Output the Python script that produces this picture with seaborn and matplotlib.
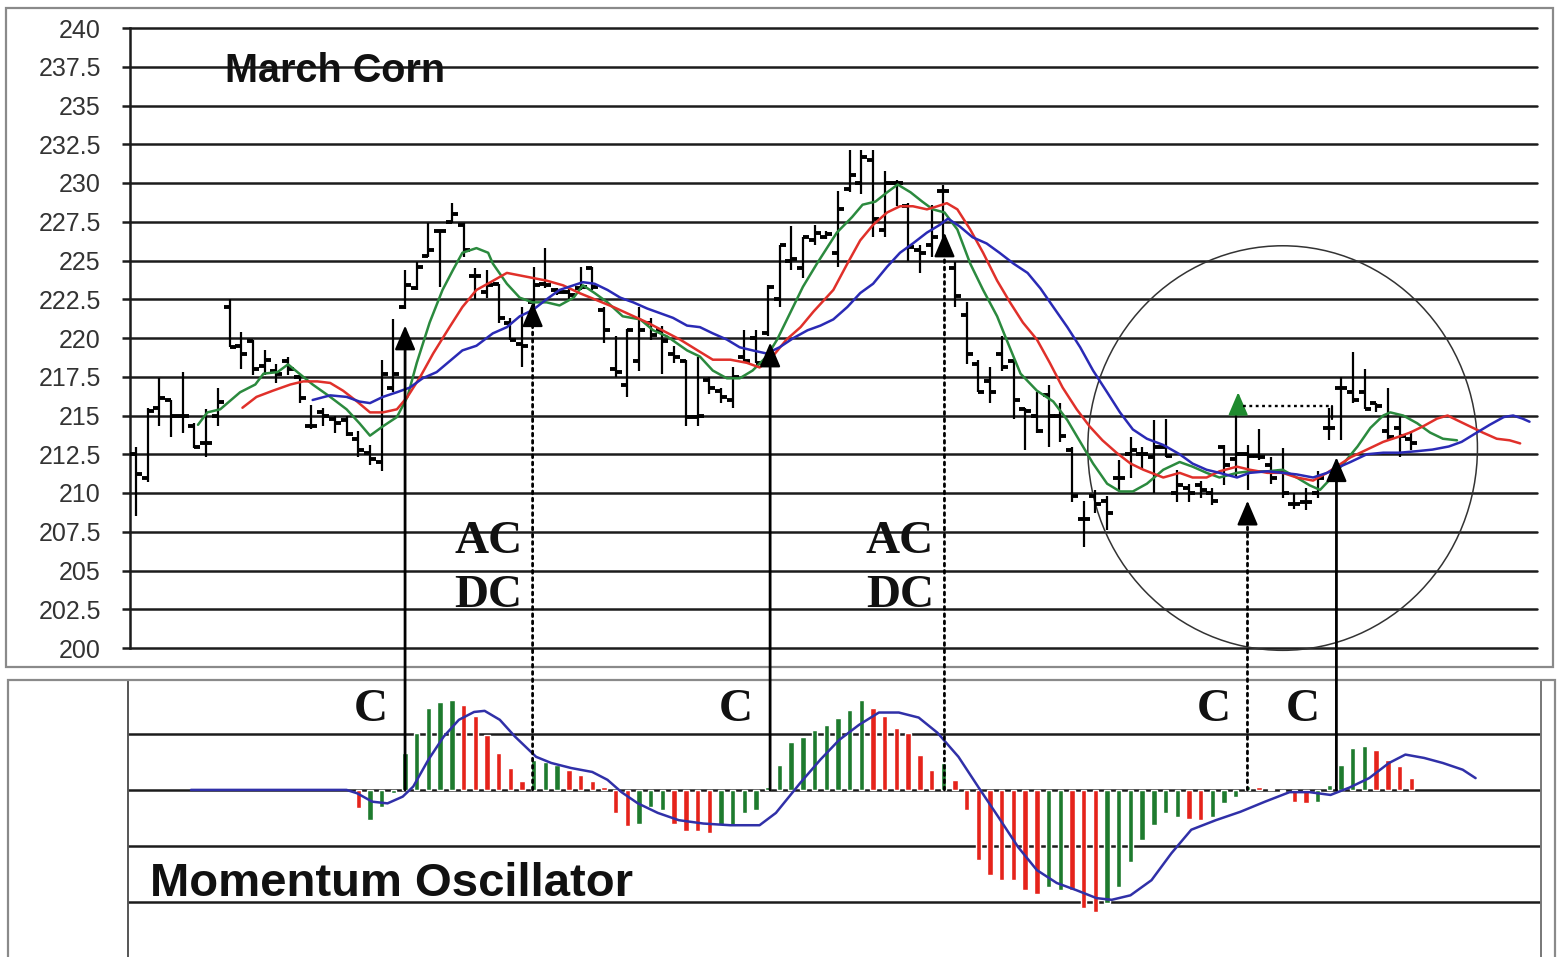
"""March Corn daily bars with displaced moving averages and a momentum oscillator."""

import matplotlib

matplotlib.use("Agg")
import matplotlib.pyplot as plt
import numpy as np
import pandas as pd
import seaborn as sns
from matplotlib.lines import TICKLEFT, TICKRIGHT
from matplotlib.patches import ConnectionPatch, Ellipse, Rectangle

# daily price bars, one per trading day (day 0 .. 109)
bar_open = [
    212.5, 211.0, 215.5, 216.0, 215.0, 214.3, 213.2, 215.0, 222.0, 219.5,
    219.8, 218.2, 217.9, 218.5, 217.5, 214.3, 215.2, 214.8, 214.7, 213.5,
    212.6, 212.0, 216.8, 222.0, 223.2, 225.3, 226.9, 227.5, 227.3, 224.0,
    223.0, 223.5, 221.0, 219.6, 222.3, 223.5, 223.1, 223.0, 223.2, 224.5,
    221.8, 218.0, 217.0, 218.5, 221.0, 220.5, 219.0, 218.5, 214.9, 217.3,
    216.6, 216.0, 218.8, 220.0, 220.3, 222.5, 225.0, 224.5, 226.3, 226.5,
    225.5, 229.6, 230.0, 231.5, 227.0, 230.0, 228.5, 225.7, 226.0, 229.5,
    224.5, 221.5, 218.3, 217.2, 219.0, 218.5, 215.4, 215.0, 216.3, 215.0,
    212.8, 208.3, 209.8, 209.5, 211.0, 212.5, 212.5, 212.3, 213.0, 210.0,
    210.3, 210.5, 210.0, 213.0, 212.2, 212.5, 212.4, 211.8, 211.4, 209.3,
    209.4, 210.0, 214.2, 216.8, 216.5, 216.5, 215.8, 214.0, 214.2, 213.5,
]
bar_high = [
    213.0, 215.5, 217.4, 216.0, 217.8, 214.5, 215.4, 216.8, 222.5, 220.4,
    219.9, 219.2, 218.3, 218.8, 217.6, 215.7, 215.5, 215.0, 215.0, 214.0,
    213.1, 218.6, 221.2, 224.4, 224.9, 227.4, 227.0, 228.7, 227.4, 224.5,
    224.4, 223.5, 221.3, 222.0, 224.6, 225.8, 223.2, 223.2, 224.6, 224.6,
    222.0, 220.1, 220.6, 222.0, 221.3, 220.8, 219.5, 218.6, 218.8, 217.5,
    216.8, 218.1, 220.5, 220.5, 223.4, 226.0, 227.2, 226.5, 227.3, 226.9,
    229.5, 232.1, 232.1, 232.1, 230.8, 230.2, 228.7, 226.0, 228.6, 229.9,
    224.9, 222.3, 218.6, 218.1, 220.1, 218.6, 215.5, 216.5, 217.0, 215.8,
    213.0, 209.5, 210.2, 209.8, 212.1, 213.6, 213.0, 214.7, 214.8, 211.5,
    210.6, 210.8, 210.3, 213.1, 215.2, 213.1, 214.1, 212.3, 212.9, 210.0,
    210.3, 211.4, 215.5, 217.5, 219.1, 218.0, 215.8, 216.8, 214.9, 214.0,
]
bar_low = [
    208.5, 210.7, 214.3, 213.6, 213.9, 212.9, 212.3, 214.3, 219.4, 218.0,
    217.6, 217.6, 217.1, 217.6, 215.8, 214.1, 214.3, 213.9, 213.7, 212.3,
    211.8, 211.4, 216.5, 221.9, 223.1, 225.2, 223.3, 227.4, 225.2, 222.5,
    222.6, 221.0, 219.9, 218.1, 222.0, 223.2, 222.8, 222.5, 223.1, 223.1,
    219.7, 217.5, 216.2, 217.9, 219.9, 217.7, 218.4, 214.3, 214.3, 216.4,
    215.8, 215.5, 218.4, 218.4, 220.1, 222.0, 224.4, 223.9, 226.0, 226.4,
    224.6, 229.4, 229.3, 226.5, 226.5, 228.5, 225.0, 224.2, 225.2, 225.5,
    222.0, 218.3, 216.5, 215.8, 217.9, 214.8, 212.8, 213.9, 213.0, 213.3,
    209.4, 206.5, 208.7, 207.6, 210.2, 211.0, 211.5, 210.0, 212.3, 209.4,
    209.4, 209.7, 209.2, 210.5, 211.0, 210.2, 212.1, 210.6, 209.7, 209.0,
    208.9, 209.7, 213.4, 213.4, 215.8, 215.4, 215.2, 213.4, 212.3, 212.8,
]
bar_close = [
    211.2, 215.3, 216.1, 215.0, 215.0, 213.0, 213.2, 215.9, 219.4, 219.0,
    218.0, 218.6, 217.7, 218.0, 216.1, 214.3, 215.0, 214.5, 213.8, 212.8,
    212.2, 217.7, 217.7, 223.4, 224.6, 225.7, 226.9, 228.0, 225.7, 224.0,
    223.4, 221.3, 219.9, 219.5, 223.4, 223.4, 223.0, 222.8, 223.3, 223.3,
    220.5, 217.8, 220.5, 220.5, 220.2, 219.8, 218.8, 214.9, 215.0, 216.8,
    216.2, 217.5, 218.5, 218.4, 223.3, 226.0, 225.1, 226.5, 226.8, 226.7,
    228.3, 230.5, 231.7, 227.7, 230.0, 230.0, 225.9, 225.5, 226.5, 229.5,
    222.7, 219.0, 216.5, 216.5, 218.1, 216.0, 215.3, 214.0, 215.0, 213.7,
    209.8, 208.3, 209.3, 208.7, 211.0, 212.8, 212.5, 213.0, 212.4, 210.5,
    210.0, 210.2, 209.5, 211.8, 212.5, 212.4, 212.3, 211.0, 210.0, 209.3,
    209.4, 211.0, 214.2, 216.8, 216.0, 215.4, 215.6, 213.6, 213.7, 213.2,
]

# displaced moving averages as (day, price)
fast_days = [
    5.3, 6.1, 7.2, 8.9, 10.2, 10.9, 12.1, 13.0, 13.8, 15.1, 16.6, 18.0, 19.1, 20.0,
    21.1, 22.3, 23.2, 24.0, 25.1, 26.2, 27.1, 27.9, 29.1, 30.1, 30.5, 31.7, 32.8,
    33.9, 35.1, 36.2, 37.4, 38.2, 39.2, 40.3, 41.6, 43.1, 44.2, 45.4, 47.1, 48.2,
    49.3, 50.5, 51.6, 52.7, 53.9, 54.8, 55.9, 57.0, 58.2, 59.9, 61.2, 62.1, 63.2,
    64.2, 65.1, 66.2, 67.2, 68.1, 69.1, 70.2, 71.3, 72.4, 73.6, 74.4, 75.6, 77.0,
    78.4, 79.6, 80.7, 81.8, 83.0, 84.1, 85.2, 86.4, 87.8, 89.2, 90.3, 91.5, 92.6,
    94.1, 95.2, 96.7, 98.0, 99.2, 100.3, 101.2, 102.2, 103.2, 104.4, 105.5, 106.6,
    107.2, 108.3, 109.5, 110.6, 111.7, 112.9,
]
fast_vals = [
    214.4, 215.2, 215.4, 216.5, 217.0, 217.7, 217.8, 218.3, 217.8, 217.0, 216.2,
    215.4, 214.5, 213.7, 214.3, 214.9, 216.2, 218.4, 221.0, 223.1, 224.4, 225.5,
    225.8, 225.5, 224.8, 223.5, 222.6, 222.3, 222.3, 222.1, 222.6, 223.4, 222.9,
    222.3, 221.4, 221.2, 220.5, 220.1, 219.2, 218.8, 217.9, 217.4, 217.4, 217.9,
    218.8, 219.9, 221.6, 223.3, 224.8, 226.8, 227.8, 228.6, 228.8, 229.4, 229.9,
    229.4, 228.8, 228.3, 228.1, 227.0, 224.8, 223.1, 221.4, 219.9, 217.7, 216.6,
    215.9, 214.7, 213.3, 211.9, 210.6, 210.1, 210.1, 210.6, 211.5, 212.0, 211.7,
    211.3, 211.0, 211.3, 211.4, 211.4, 211.5, 211.0, 210.5, 210.2, 211.0, 211.9,
    213.0, 214.2, 215.0, 215.2, 215.0, 214.5, 213.9, 213.5, 213.4,
]
mid_days = [
    9.1, 10.3, 11.7, 13.2, 14.3, 15.5, 16.6, 17.7, 18.9, 20.0, 21.1, 22.3, 23.2,
    24.3, 25.4, 26.8, 27.9, 29.1, 30.3, 31.7, 35.1, 36.5, 37.9, 40.8, 43.7, 46.5,
    48.0, 49.3, 50.8, 52.2, 53.3, 54.4, 55.6, 56.8, 57.9, 59.6, 60.8, 61.9, 63.0,
    64.2, 65.3, 66.4, 67.6, 68.5, 69.3, 70.2, 71.3, 72.4, 73.6, 74.7, 75.8, 77.0,
    78.1, 79.2, 80.4, 81.5, 82.6, 83.8, 85.0, 86.1, 87.8, 89.2, 90.3, 91.5, 92.6,
    94.1, 95.2, 96.7, 98.0, 99.2, 100.6, 101.8, 102.6, 103.8, 105.2, 106.6, 107.8,
    108.9, 110.0, 111.2, 112.1, 112.9, 114.0, 115.1, 116.3, 117.4, 118.3,
]
mid_vals = [
    215.5, 216.2, 216.6, 217.0, 217.2, 217.2, 217.1, 216.6, 215.9, 215.2, 215.2,
    215.4, 216.2, 217.5, 219.0, 220.7, 222.0, 223.1, 223.6, 224.2, 223.7, 223.4,
    222.9, 222.0, 221.0, 219.9, 219.2, 218.6, 218.6, 218.4, 218.1, 218.8, 219.9,
    220.7, 221.7, 223.1, 224.8, 226.3, 227.3, 228.1, 228.5, 228.5, 228.3, 228.5,
    228.7, 228.3, 227.0, 225.5, 223.7, 222.3, 221.0, 219.9, 218.4, 216.8, 215.4,
    214.3, 213.4, 212.6, 211.9, 211.5, 211.0, 211.3, 211.0, 211.0, 211.4, 211.7,
    211.5, 211.3, 211.3, 211.0, 210.8, 211.3, 211.7, 212.3, 212.8, 213.3, 213.6,
    213.9, 214.3, 214.8, 215.0, 214.7, 214.3, 213.9, 213.5, 213.4, 213.2,
]
slow_days = [
    15.1, 16.6, 18.0, 19.1, 20.0, 21.1, 22.3, 23.4, 24.5, 25.7, 26.8, 27.9, 29.1,
    30.5, 31.7, 32.8, 33.9, 35.1, 36.2, 37.4, 38.2, 39.2, 40.3, 41.4, 42.5, 43.7,
    44.8, 45.9, 47.1, 48.2, 49.3, 50.5, 51.6, 52.7, 53.9, 55.0, 56.2, 57.4, 58.5,
    59.6, 60.8, 61.9, 63.0, 64.2, 65.3, 66.4, 67.6, 68.7, 69.4, 70.4, 71.5, 72.7,
    73.8, 75.0, 76.2, 77.3, 78.4, 79.6, 80.7, 81.8, 83.0, 84.1, 85.2, 86.4, 87.8,
    89.2, 90.3, 91.5, 92.6, 94.1, 95.2, 96.7, 98.0, 99.2, 100.6, 101.8, 102.6,
    103.8, 105.2, 106.6, 108.0, 109.5, 110.8, 112.2, 113.3, 114.6, 115.7, 116.9,
    117.7, 118.5, 119.1,
]
slow_vals = [
    216.0, 216.3, 216.2, 215.9, 215.8, 216.2, 216.5, 216.8, 217.4, 217.8, 218.5,
    219.2, 219.5, 220.3, 220.7, 221.4, 221.8, 222.5, 223.1, 223.4, 223.6, 223.5,
    223.1, 222.6, 222.3, 221.9, 221.6, 221.3, 220.8, 220.7, 220.3, 219.9, 219.4,
    219.2, 219.0, 219.4, 220.0, 220.5, 220.8, 221.2, 222.0, 222.9, 223.5, 224.6,
    225.5, 226.1, 226.8, 227.3, 227.7, 227.2, 226.5, 226.1, 225.5, 224.8, 224.2,
    223.2, 222.0, 220.7, 219.4, 217.9, 216.5, 215.2, 214.1, 213.5, 213.1, 212.5,
    211.9, 211.5, 211.3, 211.0, 211.3, 211.4, 211.3, 211.2, 211.0, 211.3, 211.6,
    212.0, 212.5, 212.6, 212.6, 212.7, 212.8, 213.0, 213.3, 213.9, 214.4, 214.9,
    215.0, 214.8, 214.6,
]

# momentum oscillator histogram, starting at day 19
hist_first_day = 19
hist_vals = [
    -0.33, -0.54, -0.30, -0.05, 0.66, 1.02, 1.46, 1.57, 1.61, 1.52,
    1.31, 0.98, 0.66, 0.39, 0.15, 0.54, 0.50, 0.45, 0.36, 0.27,
    0.15, 0.05, -0.42, -0.65, -0.60, -0.30, -0.36, -0.60, -0.74, -0.74,
    -0.77, -0.63, -0.65, -0.42, -0.36, 0.05, 0.45, 0.86, 0.95, 1.07,
    1.16, 1.28, 1.43, 1.61, 1.46, 1.31, 1.10, 1.02, 0.63, 0.36,
    0.48, 0.18, -0.36, -1.25, -1.52, -1.61, -1.61, -1.79, -1.85, -1.73,
    -1.79, -1.79, -2.11, -2.17, -2.02, -1.73, -1.29, -0.89, -0.63, -0.42,
    -0.48, -0.51, -0.54, -0.48, -0.24, -0.12, 0.07, 0.05, 0.02, -0.02,
    -0.21, -0.24, -0.21, 0.09, 0.45, 0.74, 0.79, 0.71, 0.54, 0.42,
    0.21,
]
hist_dir = [
    "dn", "up", "up", "up", "up", "up", "up", "up", "up", "dn",
    "dn", "dn", "dn", "dn", "dn", "up", "up", "up", "dn", "dn",
    "dn", "dn", "dn", "dn", "up", "up", "up", "dn", "dn", "dn",
    "dn", "up", "up", "up", "up", "up", "up", "up", "up", "up",
    "up", "up", "up", "up", "dn", "dn", "dn", "dn", "dn", "dn",
    "up", "dn", "dn", "dn", "dn", "dn", "dn", "dn", "dn", "up",
    "up", "dn", "dn", "dn", "up", "up", "up", "up", "up", "up",
    "up", "dn", "dn", "up", "up", "up", "up", "dn", "dn", "dn",
    "dn", "dn", "up", "up", "up", "up", "up", "dn", "dn", "dn",
    "dn",
]

# oscillator signal line (day, value)
osc_days = [
    4.7, 18.0, 18.9, 20.2, 21.5, 22.8, 23.7, 25.0, 26.3, 27.6, 28.9, 29.8, 31.1,
    32.4, 34.2, 35.5, 37.2, 39.0, 40.3, 41.5, 42.9, 44.6, 46.4, 48.5, 50.8, 53.3,
    54.7, 56.8, 58.5, 60.1, 61.8, 63.5, 65.2, 66.9, 68.5, 70.3, 72.0, 73.7, 75.4,
    77.0, 78.7, 80.4, 82.1, 83.4, 85.0, 86.8, 88.5, 90.2, 92.3, 94.4, 96.5, 98.6,
    100.3, 102.1, 103.7, 105.4, 107.1, 108.5, 110.1, 111.7, 113.4, 114.5,
]
osc_vals = [
    0.0, 0.0, -0.06, -0.21, -0.24, -0.12, 0.06, 0.54, 0.95, 1.25, 1.39, 1.41, 1.25,
    0.95, 0.59, 0.48, 0.39, 0.32, 0.18, -0.04, -0.24, -0.41, -0.54, -0.60, -0.63,
    -0.63, -0.41, 0.13, 0.54, 0.89, 1.16, 1.38, 1.38, 1.29, 1.02, 0.59, 0.05, -0.48,
    -1.02, -1.43, -1.66, -1.79, -1.93, -1.96, -1.88, -1.61, -1.13, -0.71, -0.54,
    -0.39, -0.21, -0.04, -0.04, -0.09, 0.04, 0.21, 0.48, 0.63, 0.57, 0.48, 0.36,
    0.21,
]

# trade signals: day, price at the arrow tip, label, confirmed (solid) or not (dotted)
signal_days = [23.0, 33.9, 54.2, 69.1, 95.0, 102.6]
signal_tips = [220.8, 222.3, 219.7, 226.8, 209.5, 212.3]
signal_labels = ["C", "AC\nDC", "C", "AC\nDC", "C", "C"]
signal_confirmed = [True, False, True, False, False, True]

# breakout marker inside the circled base
breakout_day = 94.2
breakout_level = 215.6
breakout_confirm_day = 102.2

FIG_W, FIG_H = 1557, 957
GREEN_MA = "#2b8a3e"
RED_MA = "#e0302a"
BLUE_MA = "#2a2ab5"
HIST_COLORS = {"up": "#1e7b2e", "dn": "#e5231b"}
GRID = "#1c1c1c"


def fig_box(x0, y0, x1, y1):
    """Convert a pixel box (top-left origin) to a figure-fraction rect."""
    return [x0 / FIG_W, 1 - y1 / FIG_H, (x1 - x0) / FIG_W, (y1 - y0) / FIG_H]


sns.set_theme(style="white")
plt.rcParams["font.family"] = ["Liberation Sans", "DejaVu Sans"]

fig = plt.figure(figsize=(FIG_W / 100, FIG_H / 100), dpi=100)
fig.patch.set_facecolor("white")

# outer frames of the two panels
for x0, y0, x1, y1 in [(6, 8, 1553, 667), (8, 680, 1555, 960)]:
    fig.add_artist(Rectangle((x0 / FIG_W, 1 - y1 / FIG_H), (x1 - x0) / FIG_W, (y1 - y0) / FIG_H,
                             transform=fig.transFigure, fill=False, ec="#8a8a8a", lw=1.6))

ax_price = fig.add_axes(fig_box(130, 28, 1537, 648))
ax_osc = fig.add_axes(fig_box(128, 680, 1541, 957))

days = np.arange(len(bar_close))

# ---- price panel ----
ax_price.set_xlim(-0.51, 119.74)
ax_price.set_ylim(200, 240)
ax_price.set_yticks(np.arange(200, 240.1, 2.5))
ax_price.set_yticklabels([f"{v:g}" for v in np.arange(200, 240.1, 2.5)])
ax_price.set_xticks([])
ax_price.yaxis.grid(True, color=GRID, lw=1.8)
for line in ax_price.get_ygridlines():
    line.set_clip_on(False)
ax_price.set_axisbelow(True)
ax_price.tick_params(axis="y", direction="out", length=6, width=1.8, color=GRID,
                     pad=15, labelsize=18, labelcolor="#333333", left=True)
for side in ["top", "right", "bottom"]:
    ax_price.spines[side].set_visible(False)
ax_price.spines["left"].set_color(GRID)
ax_price.spines["left"].set_linewidth(1.8)
ax_price.patch.set_alpha(0)

ax_price.vlines(days, bar_low, bar_high, color="black", lw=1.6, zorder=3)
ax_price.plot(days, bar_open, ls="none", marker=TICKLEFT, ms=4, mew=2.8, color="black", zorder=3)
ax_price.plot(days, bar_close, ls="none", marker=TICKRIGHT, ms=4, mew=2.8, color="black", zorder=3)

ma_frame = pd.concat([
    pd.DataFrame({"day": fast_days, "price": fast_vals, "ma": "fast"}),
    pd.DataFrame({"day": mid_days, "price": mid_vals, "ma": "mid"}),
    pd.DataFrame({"day": slow_days, "price": slow_vals, "ma": "slow"}),
])
sns.lineplot(data=ma_frame, x="day", y="price", hue="ma", ax=ax_price, sort=False,
             estimator=None, lw=1.8, legend=False, zorder=4,
             palette={"fast": GREEN_MA, "mid": RED_MA, "slow": BLUE_MA})
ax_price.set_xlabel("")
ax_price.set_ylabel("")

ax_price.add_patch(Ellipse((98.0, 212.9), width=33.3, height=26.1, fill=False,
                           ec="#333333", lw=1.1, clip_on=False, zorder=2))

# breakout arrow and dotted reference line
ax_price.annotate("", xy=(breakout_day, breakout_level + 0.9), xytext=(breakout_day, breakout_level - 0.4),
                  arrowprops=dict(arrowstyle="-|>,head_length=0.7,head_width=0.3", color="#1f8a2e",
                                  lw=1.6, mutation_scale=20, shrinkA=0, shrinkB=0), zorder=5)
ax_price.plot([breakout_day + 0.4, breakout_confirm_day], [breakout_level, breakout_level],
              color="black", lw=1.7, ls=(0, (1.2, 1.5)), zorder=5)
ax_price.plot([breakout_confirm_day, breakout_confirm_day], [breakout_level, breakout_level - 0.8],
              color="black", lw=1.6, zorder=5)

fig.text(225 / FIG_W, 1 - 71 / FIG_H, "March Corn", fontsize=28.5, fontweight="bold",
         ha="left", va="center", color="#111111")

# ---- oscillator panel ----
ax_osc.set_xlim(-0.68, 120.09)
ax_osc.set_ylim(-2.98, 1.96)
ax_osc.set_yticks([-2, -1, 0, 1])
ax_osc.set_yticklabels([])
ax_osc.set_xticks([])
ax_osc.yaxis.grid(True, color=GRID, lw=1.8)
ax_osc.set_axisbelow(True)
ax_osc.tick_params(axis="y", length=0)
ax_osc.spines["top"].set_visible(False)
ax_osc.spines["bottom"].set_visible(False)
ax_osc.spines["left"].set_color("#555555")
ax_osc.spines["left"].set_linewidth(1.4)
ax_osc.spines["right"].set_color("#777777")
ax_osc.spines["right"].set_linewidth(1.4)
ax_osc.patch.set_alpha(0)

hist_days = np.arange(hist_first_day, hist_first_day + len(hist_vals))
ax_osc.bar(hist_days, hist_vals, width=0.46, color=[HIST_COLORS[d] for d in hist_dir], zorder=3)
sns.lineplot(x=osc_days, y=osc_vals, ax=ax_osc, sort=False, estimator=None,
             color="#3030a8", lw=1.8, zorder=4)

fig.text(150 / FIG_W, 1 - 884 / FIG_H, "Momentum Oscillator", fontsize=34, fontweight="bold",
         ha="left", va="center", color="#111111")

# ---- signal lines spanning both panels ----
serif = ["Liberation Serif", "DejaVu Serif"]
for day, tip, label, confirmed in zip(signal_days, signal_tips, signal_labels, signal_confirmed):
    style = "-" if confirmed else (0, (1.0, 1.6))
    con = ConnectionPatch(xyA=(day, 0), coordsA=ax_osc.transData,
                          xyB=(day, tip - 1.1), coordsB=ax_price.transData,
                          color="black", lw=2.0, ls=style, zorder=6)
    fig.add_artist(con)
    ax_price.annotate("", xy=(day, tip), xytext=(day, tip - 1.2),
                      arrowprops=dict(arrowstyle="-|>,head_length=0.75,head_width=0.32", color="black",
                                      lw=1.6, mutation_scale=20, shrinkA=0, shrinkB=0),
                      annotation_clip=False, zorder=6)
    if label == "C":
        ax_osc.text(day - 2.9, 1.43, label, fontsize=34, family=serif, fontweight="bold",
                    ha="center", va="center", color="#111111")
    else:
        ax_price.text(day - 3.8, 205.1, label, fontsize=34, family=serif, fontweight="bold",
                      ha="center", va="center", linespacing=1.38, color="#111111")

fig.savefig("out.png", dpi=100)
